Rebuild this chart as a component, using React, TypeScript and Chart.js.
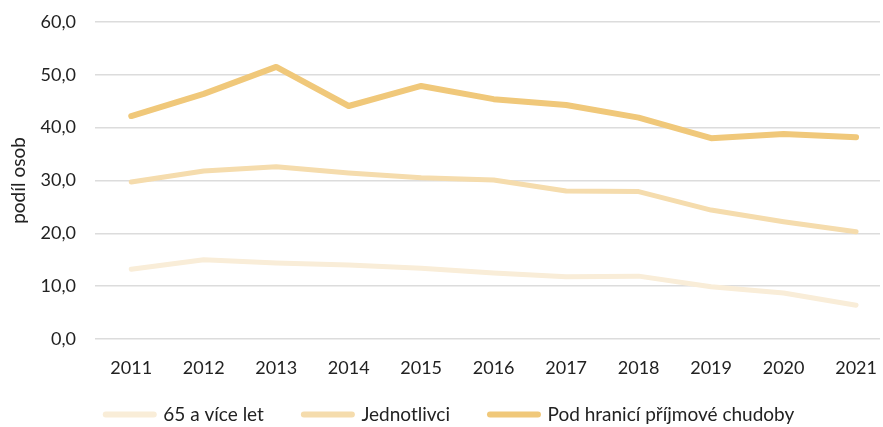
import React, { useEffect, useRef } from 'react';
import { Chart, registerables } from 'chart.js';

Chart.register(...registerables);

const years = ['2011', '2012', '2013', '2014', '2015', '2016', '2017', '2018', '2019', '2020', '2021'];
const senior = [13.2, 15.0, 14.4, 14.0, 13.4, 12.5, 11.8, 11.9, 9.9, 8.7, 6.4];
const single = [29.7, 31.8, 32.6, 31.4, 30.5, 30.1, 28.0, 27.9, 24.4, 22.2, 20.3];
const poverty = [42.2, 46.4, 51.5, 44.1, 47.9, 45.4, 44.3, 41.9, 38.0, 38.8, 38.2];
const seriesNames = ['65 a více let', 'Jednotlivci', 'Pod hranicí příjmové chudoby'];
const seriesColors = ['#F9EDD8', '#F5DCAD', '#F0C87A'];
const seriesWidths = [5, 5, 6];
const yAxisTitle = 'podíl osob';

const legendTweak = {
  id: 'legendTweak',
  afterInit(chart: any) {
    const legend = chart.legend;
    if (!legend || legend.__patched) return;
    const origFit = legend.fit.bind(legend);
    legend.fit = function () {
      origFit();
      this.height = 36;
    };
    legend.__patched = true;
  },
  afterLayout(chart: any) {
    const legend = chart.legend;
    if (legend) {
      legend.left += 10;
      legend.right += 10;
      legend.top -= 26;
      legend.height = legend.bottom - legend.top;
    }
  },
};

export default function App() {
  const ref = useRef<HTMLCanvasElement>(null);
  useEffect(() => {
    const pts = (vals: number[]) => vals.map((v, i) => ({ x: Number(years[i]), y: v }));
    const seriesData = [senior, single, poverty];
    const chart = new Chart(ref.current as HTMLCanvasElement, {
      type: 'line',
      data: {
        datasets: seriesData.map((vals, i) => ({
          label: seriesNames[i],
          data: pts(vals),
          borderColor: seriesColors[i],
          backgroundColor: seriesColors[i],
          borderWidth: seriesWidths[i],
          pointRadius: 0,
          pointHoverRadius: 0,
          borderCapStyle: 'round',
          borderJoinStyle: 'round',
          tension: 0,
          fill: false,
        })),
      },
      options: {
        responsive: false,
        animation: false,
        font: { family: 'Lato' },
        layout: { padding: { top: 22, right: 3, left: 0, bottom: 0 } },
        scales: {
          x: {
            type: 'linear',
            min: 2010.5,
            max: 2021.33,
            grid: { display: false, drawTicks: false },
            border: { display: false },
            afterBuildTicks: (s: any) => {
              s.ticks = years.map((y) => ({ value: Number(y) }));
            },
            afterFit: (s: any) => {
              s.height = 52;
              s.paddingLeft = 0;
              s.paddingRight = 0;
            },
            ticks: {
              autoSkip: false,
              maxRotation: 0,
              padding: 18,
              color: '#222',
              font: { family: 'Lato', size: 18 },
              callback: (v: any) => String(v),
            },
          },
          y: {
            min: 0,
            max: 60,
            grid: { color: '#dcdcdc', lineWidth: 1.5, drawTicks: false },
            border: { display: false },
            afterFit: (s: any) => {
              s.width = 95;
              s.paddingTop = 0;
              s.paddingBottom = 0;
            },
            ticks: {
              stepSize: 10,
              padding: 19,
              color: '#222',
              font: { family: 'Lato', size: 18 },
              callback: (v: any) => Number(v).toFixed(1).replace('.', ','),
            },
            title: {
              display: true,
              text: yAxisTitle,
              color: '#222',
              font: { family: 'Lato', size: 19 },
              padding: { top: 7, bottom: 0 },
            },
          },
        },
        plugins: {
          tooltip: { enabled: false },
          legend: {
            position: 'bottom',
            labels: {
              usePointStyle: true,
              pointStyle: 'line',
              pointStyleWidth: 48,
              padding: 40,
              color: '#222',
              font: { family: 'Lato', size: 19 },
              generateLabels: (c: any) => {
                const items = (Chart.defaults.plugins.legend.labels.generateLabels as any)(c);
                return items.map((it: any, i: number) => ({
                  ...it,
                  pointStyle: 'line',
                  lineWidth: 6,
                  lineCap: 'round',
                  strokeStyle: seriesColors[i],
                  fillStyle: seriesColors[i],
                }));
              },
            },
          },
        },
      },
      plugins: [legendTweak],
    } as any);
    return () => chart.destroy();
  }, []);
  return (
    <div style={{ position: 'fixed', left: 0, top: 0, width: 883, height: 427 }}>
      <canvas ref={ref} width={883} height={427} />
    </div>
  );
}
